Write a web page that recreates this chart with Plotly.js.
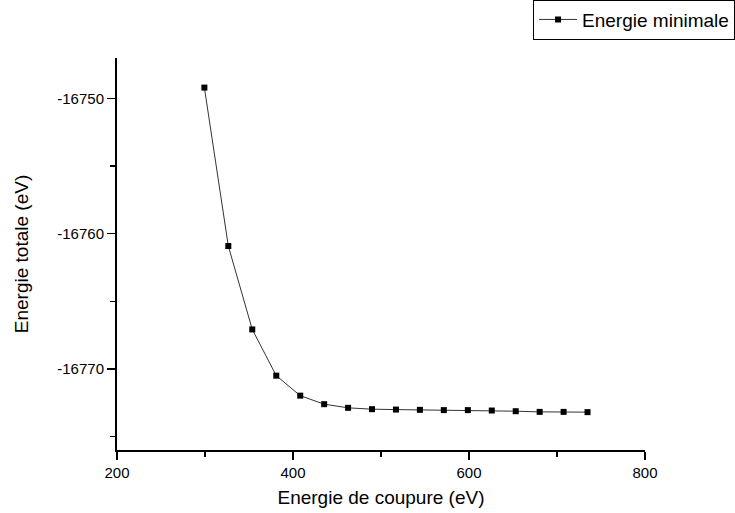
<!DOCTYPE html>
<html>
<head>
<meta charset="utf-8">
<script src="https://cdn.plot.ly/plotly-3.0.1.min.js"></script>
<style>html,body{margin:0;padding:0;background:#fff;}#chart{width:735px;height:513px;}</style>
</head>
<body>
<div id="chart"></div>
<script>
// Cut-off energy (eV) and total energy (eV)
const cutoffEnergy = [299.3, 326.5, 353.7, 381.0, 408.2, 435.4, 462.6, 489.8, 517.0, 544.2, 571.4, 598.7, 625.9, 653.1, 680.3, 707.5, 734.7];
const totalEnergy = [-16749.19, -16760.91, -16767.08, -16770.50, -16771.98, -16772.61, -16772.88, -16772.98, -16773.01, -16773.03, -16773.05, -16773.05, -16773.08, -16773.13, -16773.18, -16773.18, -16773.20];
const yTickVals = [-16770, -16760, -16750];
const yTickText = ["-16770", "-16760", "-16750"];
const xTickVals = [200, 400, 600, 800];
const xTickText = ["200", "400", "600", "800"];
const seriesName = "Energie minimale";
const xTitle = "Energie de coupure (eV)";
const yTitle = "Energie totale (eV)";

const font = "'Liberation Sans', Arial, sans-serif";

Plotly.newPlot("chart", [{
  x: cutoffEnergy,
  y: totalEnergy,
  name: seriesName,
  type: "scatter",
  mode: "lines+markers",
  line: {color: "#333333", width: 1},
  marker: {symbol: "square", size: 6, color: "#000000"}
}], {
  width: 735, height: 513,
  margin: {l: 117, r: 90, t: 58, b: 63, autoexpand: false},
  paper_bgcolor: "#ffffff", plot_bgcolor: "#ffffff",
  font: {family: font, color: "#000000"},
  showlegend: true,
  legend: {
    x: 0.788, y: 1.149, xanchor: "left", yanchor: "top",
    bordercolor: "#000000", borderwidth: 1, bgcolor: "#ffffff",
    itemwidth: 38,
    font: {size: 19, family: font}
  },
  xaxis: {
    range: [200, 800], tickmode: "array", tickvals: xTickVals, ticktext: xTickText,
    automargin: false,
    showgrid: false, zeroline: false,
    showline: true, linecolor: "#000000", linewidth: 2,
    ticks: "outside", ticklen: 8, tickwidth: 1.5, tickcolor: "#000000",
    minor: {dtick: 100, tick0: 200, ticks: "outside", ticklen: 5, tickwidth: 1.5, tickcolor: "#000000", showgrid: false},
    tickfont: {size: 15, family: font},
    title: {text: xTitle, font: {size: 19, family: font}, standoff: 11}
  },
  yaxis: {
    range: [-16776, -16747], tickmode: "array", tickvals: yTickVals, ticktext: yTickText,
    automargin: false,
    showgrid: false, zeroline: false,
    showline: true, linecolor: "#000000", linewidth: 2,
    ticks: "outside", ticklen: 8, tickwidth: 1.5, tickcolor: "#000000",
    minor: {dtick: 5, tick0: -16770, ticks: "outside", ticklen: 5, tickwidth: 1.5, tickcolor: "#000000", showgrid: false},
    tickfont: {size: 15, family: font},
    title: {text: yTitle, font: {size: 19, family: font}, standoff: 24}
  }
}, {displayModeBar: false, staticPlot: true});
</script>
</body>
</html>
